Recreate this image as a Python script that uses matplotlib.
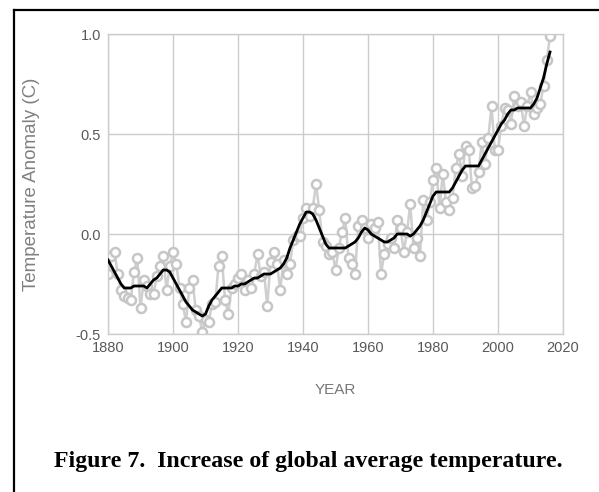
import numpy as np
import matplotlib
matplotlib.use('Agg')
import matplotlib.pyplot as plt
from matplotlib.lines import Line2D

# annual global temperature anomaly (C)
years = list(range(1880, 2017))
anomaly = [-0.20, -0.11, -0.09, -0.20, -0.28, -0.31, -0.32, -0.33, -0.19, -0.12,
           -0.37, -0.23, -0.26, -0.30, -0.30, -0.21, -0.16, -0.11, -0.28, -0.16,
           -0.09, -0.15, -0.27, -0.35, -0.44, -0.27, -0.23, -0.38, -0.41, -0.49,
           -0.43, -0.44, -0.35, -0.34, -0.16, -0.11, -0.33, -0.40, -0.27, -0.25,
           -0.22, -0.20, -0.28, -0.23, -0.27, -0.20, -0.10, -0.21, -0.19, -0.36,
           -0.14, -0.09, -0.15, -0.28, -0.13, -0.20, -0.15, -0.03, -0.01, -0.01,
           0.08, 0.13, 0.09, 0.13, 0.25, 0.12, -0.04, -0.06, -0.10, -0.09,
           -0.18, -0.07, 0.01, 0.08, -0.12, -0.15, -0.20, 0.04, 0.07, 0.03,
           -0.02, 0.05, 0.03, 0.06, -0.20, -0.10, -0.05, -0.02, -0.07, 0.07,
           0.03, -0.09, 0.01, 0.15, -0.07, -0.02, -0.11, 0.17, 0.07, 0.16,
           0.27, 0.33, 0.13, 0.30, 0.16, 0.12, 0.18, 0.33, 0.40, 0.29,
           0.44, 0.42, 0.23, 0.24, 0.31, 0.46, 0.35, 0.48, 0.64, 0.42,
           0.42, 0.54, 0.63, 0.62, 0.55, 0.69, 0.64, 0.66, 0.54, 0.64,
           0.71, 0.60, 0.63, 0.65, 0.74, 0.87, 0.99]

# lowess smoothed curve
smooth = [-0.13, -0.16, -0.19, -0.22, -0.25, -0.27, -0.27, -0.27, -0.26, -0.26,
          -0.26, -0.26, -0.27, -0.25, -0.23, -0.22, -0.20, -0.18, -0.18, -0.19,
          -0.22, -0.25, -0.28, -0.31, -0.34, -0.36, -0.38, -0.39, -0.40, -0.41,
          -0.40, -0.36, -0.33, -0.31, -0.29, -0.27, -0.27, -0.27, -0.27, -0.26,
          -0.26, -0.25, -0.25, -0.24, -0.23, -0.22, -0.22, -0.21, -0.20, -0.20,
          -0.20, -0.19, -0.18, -0.17, -0.15, -0.12, -0.07, -0.03, 0.01, 0.05,
          0.08, 0.11, 0.11, 0.10, 0.07, 0.03, -0.01, -0.05, -0.07, -0.07,
          -0.07, -0.07, -0.07, -0.07, -0.06, -0.05, -0.04, -0.02, 0.01, 0.03,
          0.02, 0.00, -0.01, -0.02, -0.03, -0.04, -0.04, -0.03, -0.02, 0.00,
          0.00, 0.00, 0.00, -0.01, 0.00, 0.02, 0.04, 0.07, 0.11, 0.15,
          0.19, 0.21, 0.21, 0.21, 0.21, 0.21, 0.23, 0.26, 0.29, 0.32,
          0.34, 0.34, 0.34, 0.34, 0.34, 0.37, 0.40, 0.43, 0.46, 0.49,
          0.52, 0.55, 0.57, 0.60, 0.62, 0.62, 0.63, 0.63, 0.63, 0.63,
          0.63, 0.65, 0.68, 0.73, 0.78, 0.85, 0.91]

xticks = [1880, 1900, 1920, 1940, 1960, 1980, 2000, 2020]
yticks = [-0.5, 0.0, 0.5, 1.0]

W, H = 599, 492
fig = plt.figure(figsize=(W / 100, H / 100), dpi=100)
ax = fig.add_axes([108 / W, 1 - 334 / H, 455 / W, 300 / H])

ax.plot(years, anomaly, color='#cfcfcf', lw=1.8, marker='o', ms=6.5,
        mfc='white', mec='#c6c6c6', mew=1.8, zorder=2)
ax.plot(years, smooth, color='black', lw=2.0, zorder=3)

ax.set_xlim(1880, 2020)
ax.set_ylim(-0.5, 1.0)
ax.set_xticks(xticks)
ax.set_yticks(yticks)
ax.set_yticklabels(['-0.5', '0.0', '0.5', '1.0'])
ax.grid(True, color='#cccccc', lw=1.0)
ax.set_axisbelow(True)
for s in ax.spines.values():
    s.set_color('#cccccc')
    s.set_linewidth(1.0)

tick_font = ['Liberation Sans Narrow', 'Liberation Sans', 'DejaVu Sans']
ax.tick_params(length=0, pad=5, labelcolor='#595959', labelsize=10.5)
for lab in ax.get_xticklabels() + ax.get_yticklabels():
    lab.set_family(tick_font)
    lab.set_stretch('condensed')

ax.set_xlabel('YEAR', color='#777777', fontsize=11, family=tick_font, labelpad=20)
ax.set_ylabel('Temperature Anomaly (C)', color='#808080', fontsize=13.5,
              family=['Liberation Sans', 'DejaVu Sans'])
ax.yaxis.set_label_coords((40 - 108) / 455, 0.5)

# caption and frame
fig.text(308 / W, 1 - 462 / H, 'Figure 7.  Increase of global average temperature.',
         ha='center', va='center', fontsize=17.2, fontweight='bold',
         family=['Liberation Serif', 'DejaVu Serif'])
fig.add_artist(Line2D([14 / W, 14 / W], [0, 1 - 10 / H], color='black', lw=1.6,
                      transform=fig.transFigure))
fig.add_artist(Line2D([14 / W, 1], [1 - 10 / H, 1 - 10 / H], color='black', lw=1.6,
                      transform=fig.transFigure))

fig.savefig('out.png', dpi=100)
